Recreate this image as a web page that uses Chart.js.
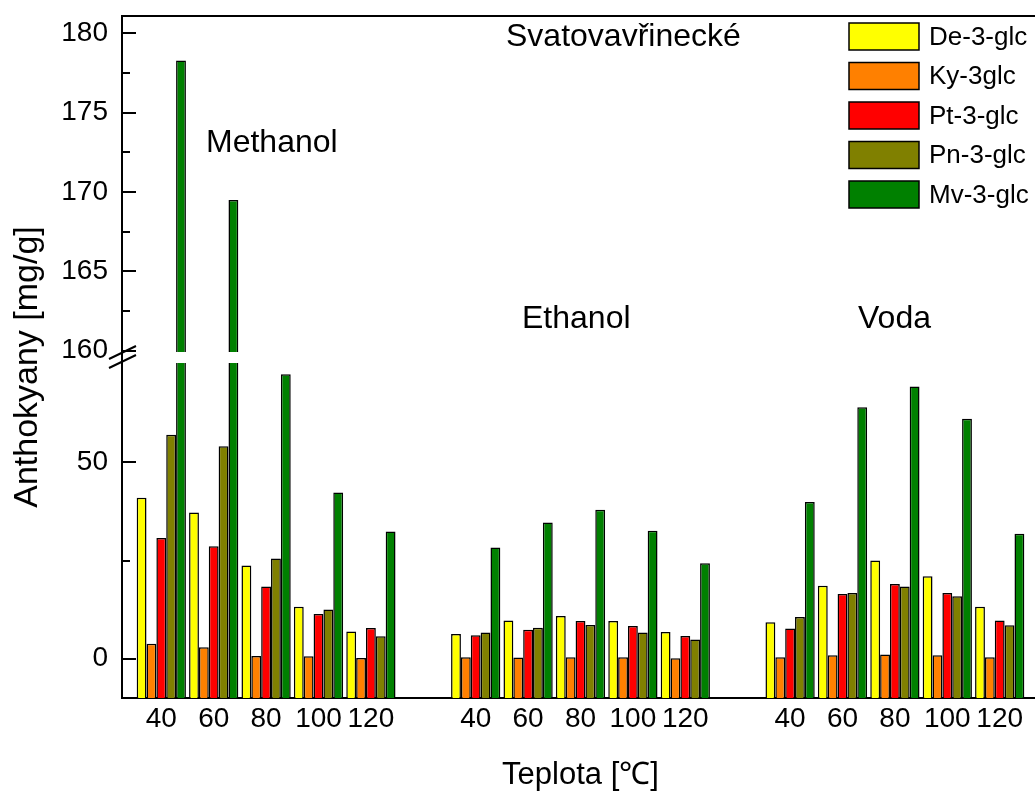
<!DOCTYPE html>
<html>
<head>
<meta charset="utf-8">
<script src="https://cdn.jsdelivr.net/npm/chart.js@4.4.0/dist/chart.umd.min.js"></script>
<style>
  html, body { margin: 0; padding: 0; background: #fff; overflow: hidden; }
  #wrap { position: relative; width: 1040px; height: 794px; }
</style>
</head>
<body>
<div id="wrap"><canvas id="anthoChart"></canvas></div>
<script>
// Extraction temperature [°C] and solvent groups
const temperatures = ['40', '60', '80', '100', '120'];
const solvents = ['Methanol', 'Ethanol', 'Voda'];
const pigments = ['De-3-glc', 'Ky-3glc', 'Pt-3-glc', 'Pn-3-glc', 'Mv-3-glc'];
const pigmentColors = ['#ffff00', '#ff8000', '#ff0000', '#808000', '#008000'];

// mg/g -- Methanol 40..120, Ethanol 40..120, Voda 40..120
const de3glc = [41.0, 37.2, 23.7, 13.2, 6.9, 6.3, 9.7, 10.9, 9.6, 6.8, 9.3, 18.6, 25.0, 21.0, 13.2];
const ky3glc = [3.8, 2.9, 0.7, 0.6, 0.2, 0.4, 0.3, 0.4, 0.4, 0.15, 0.4, 0.9, 1.1, 0.9, 0.4];
const pt3glc = [30.7, 28.6, 18.4, 11.4, 7.8, 6.0, 7.4, 9.6, 8.3, 5.8, 7.7, 16.5, 19.0, 16.7, 9.7];
const pn3glc = [57.0, 54.1, 25.5, 12.5, 5.7, 6.7, 7.9, 8.6, 6.7, 4.9, 10.6, 16.7, 18.4, 15.9, 8.5];
const mv3glc = [178.3, 169.5, 72.4, 42.3, 32.4, 28.3, 34.7, 37.9, 32.6, 24.3, 39.9, 64.0, 69.3, 61.1, 31.8];
const series = [de3glc, ky3glc, pt3glc, pn3glc, mv3glc];

// broken y axis: lower and upper segment
const lowerRange = [-10, 76.8];
const upperRange = [159.6, 181.1];
const lowerTicks = [0, 50];
const lowerMinor = [25];
const upperTicks = [160, 165, 170, 175, 180];
const upperMinor = [162.5, 167.5, 172.5, 177.5];
const splitAt = 0.5; // share of the axis height taken by the lower segment

const FONT = "'Liberation Sans', Arial, sans-serif";

// one empty slot between solvent groups
const groupStride = temperatures.length + 1;
const xPos = [];
solvents.forEach((s, si) => temperatures.forEach((t, ti) => xPos.push(si * groupStride + ti)));
const xMin = -0.75;
const xMax = xPos[xPos.length - 1] + 0.75;

// linear scale with a gap between lowerRange and upperRange
class BrokenLinearScale extends Chart.LinearScale {
  getPixelForValue(value) {
    if (value === null || value === undefined) return NaN;
    let dec;
    if (value <= lowerRange[1]) {
      dec = splitAt * (value - lowerRange[0]) / (lowerRange[1] - lowerRange[0]);
    } else if (value >= upperRange[0]) {
      dec = splitAt + (1 - splitAt) * (value - upperRange[0]) / (upperRange[1] - upperRange[0]);
    } else {
      dec = splitAt;
    }
    return this.getPixelForDecimal(dec);
  }
  getValueForPixel(pixel) {
    const dec = this.getDecimalForPixel(pixel);
    if (dec <= splitAt) {
      return lowerRange[0] + dec / splitAt * (lowerRange[1] - lowerRange[0]);
    }
    return upperRange[0] + (dec - splitAt) / (1 - splitAt) * (upperRange[1] - upperRange[0]);
  }
}
BrokenLinearScale.id = 'brokenLinear';
BrokenLinearScale.defaults = Chart.LinearScale.defaults;
Chart.register(BrokenLinearScale);

const datasets = pigments.map((name, k) => ({
  label: name,
  data: series[k].map((v, i) => ({ x: xPos[i], y: v })),
  backgroundColor: pigmentColors[k],
  borderColor: '#000',
  borderWidth: 1.5,
  borderSkipped: 'start',
  base: lowerRange[0],
  categoryPercentage: 0.94,
  barPercentage: 1.0,
}));

const brokenAxis = {
  id: 'brokenAxis',
  // leave a white band across the bars at the break
  beforeDatasetsDraw(chart) {
    const ctx = chart.ctx;
    const { left, right, top, bottom } = chart.chartArea;
    const yb = chart.scales.y.getPixelForDecimal(splitAt);
    ctx.save();
    ctx.beginPath();
    ctx.rect(left - 2, top - 4, right - left + 4, yb - 5 - (top - 4));
    ctx.rect(left - 2, yb + 6, right - left + 4, bottom + 4 - (yb + 6));
    ctx.clip();
  },
  afterDatasetsDraw(chart) {
    chart.ctx.restore();
  },
  afterDraw(chart) {
    const ctx = chart.ctx;
    const { left, right, top } = chart.chartArea;
    const y = chart.scales.y;

    ctx.save();
    ctx.strokeStyle = '#000';
    ctx.lineWidth = 2;

    // top frame
    ctx.beginPath();
    ctx.moveTo(left - 1, top);
    ctx.lineTo(right, top);
    ctx.stroke();

    // inward ticks
    const tickMarks = (values, len) => {
      values.forEach(v => {
        const py = Math.round(y.getPixelForValue(v));
        ctx.moveTo(left, py);
        ctx.lineTo(left + len, py);
      });
    };
    ctx.beginPath();
    tickMarks(upperTicks.concat(lowerTicks), 14);
    tickMarks(upperMinor.concat(lowerMinor), 8);
    ctx.stroke();

    // break marks
    const yb = y.getPixelForDecimal(splitAt);
    ctx.beginPath();
    [-4.5, 4.5].forEach(d => {
      ctx.moveTo(left - 13, yb + d + 6.5);
      ctx.lineTo(left + 14, yb + d - 6.5);
    });
    ctx.stroke();

    // legend
    const lx = right - 190, ly = top + 7, bw = 70, bh = 27, step = 39.5;
    ctx.lineWidth = 1.5;
    ctx.font = '26px ' + FONT;
    ctx.textBaseline = 'middle';
    ctx.textAlign = 'left';
    chart.data.datasets.forEach((ds, k) => {
      const ry = ly + k * step;
      ctx.fillStyle = ds.backgroundColor;
      ctx.fillRect(lx, ry, bw, bh);
      ctx.strokeRect(lx, ry, bw, bh);
      ctx.fillStyle = '#000';
      ctx.fillText(ds.label, lx + 80, ry + bh / 2 + 1);
    });

    // labels inside the plot
    ctx.font = '32px ' + FONT;
    ctx.textBaseline = 'alphabetic';
    ctx.fillText('Svatovavřinecké', 506, 46);
    ctx.fillText(solvents[0], 206, 152);
    ctx.fillText(solvents[1], 522, 328);
    ctx.fillText(solvents[2], 858, 328);

    // y axis title
    ctx.translate(28, 367);
    ctx.rotate(-Math.PI / 2);
    ctx.textAlign = 'center';
    ctx.textBaseline = 'middle';
    ctx.font = '34px ' + FONT;
    ctx.fillText('Anthokyany [mg/g]', 0, 0);
    ctx.restore();
  },
};

new Chart(document.getElementById('anthoChart'), {
  type: 'bar',
  data: { datasets },
  options: {
    responsive: true,
    maintainAspectRatio: false,
    animation: false,
    layout: { padding: { top: 16, right: 1, bottom: 0, left: 0 } },
    plugins: {
      legend: { display: false },
      tooltip: { enabled: false },
    },
    scales: {
      y: {
        type: 'brokenLinear',
        position: 'left',
        min: lowerRange[0],
        max: upperRange[1],
        afterBuildTicks: s => { s.ticks = lowerTicks.concat(upperTicks).map(v => ({ value: v })); },
        afterFit: s => {
          s.width = 122;
          s.paddingTop = 0;
          s.paddingBottom = 0;
        },
        grid: { display: false, drawTicks: false },
        border: { display: true, color: '#000', width: 2 },
        ticks: {
          color: '#000',
          padding: 14,
          font: { size: 28, family: FONT },
          callback: v => String(v),
        },
      },
      x: {
        type: 'linear',
        min: xMin,
        max: xMax,
        offset: false,
        afterBuildTicks: s => { s.ticks = xPos.map(v => ({ value: v })); },
        afterFit: s => {
          s.height = 96;
          s.paddingLeft = 0;
          s.paddingRight = 0;
        },
        grid: { display: false, drawTicks: false },
        border: { display: true, color: '#000', width: 2 },
        ticks: {
          color: '#000',
          autoSkip: false,
          maxRotation: 0,
          padding: 4,
          font: { size: 28, family: FONT },
          callback: v => temperatures[v % groupStride],
        },
        title: {
          display: true,
          text: 'Teplota [℃]',
          color: '#000',
          padding: 0,
          font: { size: 31, family: FONT },
        },
      },
    },
  },
  plugins: [brokenAxis],
});
</script>
</body>
</html>
